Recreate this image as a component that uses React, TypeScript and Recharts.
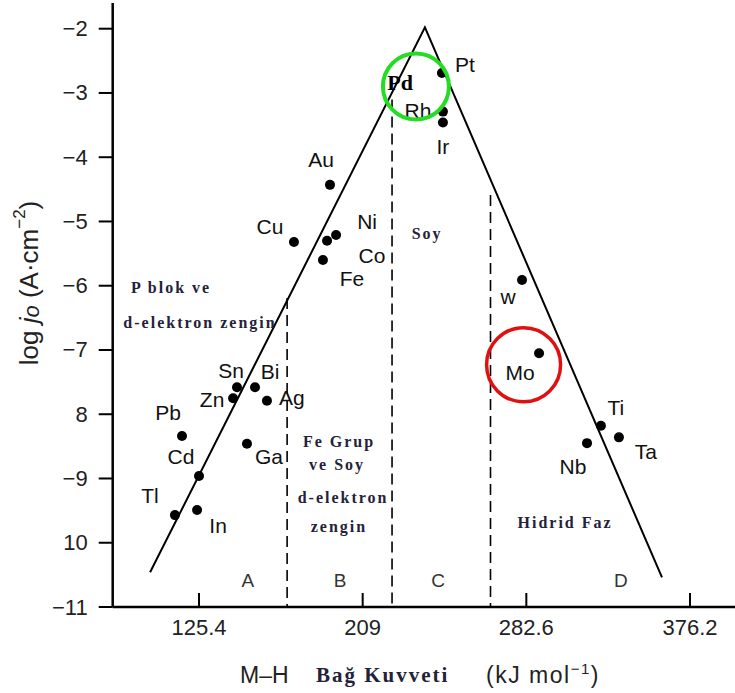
import React from "react";
import {
  ScatterChart,
  Scatter,
  XAxis,
  YAxis,
  ReferenceLine,
  ReferenceDot,
} from "recharts";

// ---------- data ----------
const xTicks = [125.4, 209, 292.6, 376.2];
const xTickLabels = ["125.4", "209", "282.6", "376.2"];
const yTicks = [-2, -3, -4, -5, -6, -7, -8, -9, -10, -11];
const yTickLabels = ["−2", "−3", "−4", "−5", "−6", "−7", "8", "−9", "10", "−11"];

const metalNames = ["Pt", "Rh", "Ir", "Au", "Cu", "Ni", "Co", "Fe", "w", "Mo", "Ti", "Ta", "Nb", "Sn", "Zn", "Bi", "Ag", "Pb", "Cd", "Ga", "Tl", "In"];
const bondStrength = [249.5, 250.0, 250.0, 192.3, 173.9, 195.4, 190.8, 188.7, 290.4, 299.1, 330.7, 339.9, 323.6, 144.8, 142.8, 154.0, 160.1, 116.7, 125.4, 149.9, 113.1, 124.4];
const logJ0 = [-2.69, -3.29, -3.46, -4.43, -5.32, -5.21, -5.3, -5.6, -5.91, -7.05, -8.18, -8.36, -8.45, -7.58, -7.75, -7.58, -7.79, -8.34, -8.96, -8.46, -9.57, -9.49];

const volcanoX = [100.4, 240.8, 361.9];
const volcanoY = [-10.46, -1.98, -10.54];

const boundaryX = [170.4, 224.0, 274.3];
const boundaryTopY = [-6.19, -3.1, -4.59];

const regionLetters = ["A", "B", "C", "D"];
const regionLetterX = [150.4, 197.4, 247.5, 340.9];
const regionLetterY = -10.58;

const noteTexts = ["P blok ve", "d-elektron zengin", "Fe Grup", "ve Soy", "d-elektron", "zengin", "Soy", "Hidrid Faz"];
const noteX = [111.1, 125.9, 196.9, 195.9, 199.0, 196.9, 241.9, 312.4];
const noteY = [-6.03, -6.58, -8.43, -8.78, -9.29, -9.74, -5.19, -9.69];

const pdLabel = { text: "Pd", x: 228.1, y: -2.83 };
const highlightGreen = { x: 236.2, y: -2.9 };
const highlightRed = { x: 291.2, y: -7.23 };

// ---------- derived tables ----------
const metals = metalNames.map((n, i) => ({ name: n, x: bondStrength[i], y: logJ0[i] }));
const volcano = volcanoX.map((x, i) => ({ x, y: volcanoY[i] }));
const notes = noteTexts.map((t, i) => ({ text: t, x: noteX[i], y: noteY[i] }));
const letters = regionLetters.map((t, i) => ({ text: t, x: regionLetterX[i], y: regionLetterY }));

// ---------- styles ----------
const SANS = "'Liberation Sans', Arial, Helvetica, sans-serif";
const SERIF = "'Liberation Serif', 'Times New Roman', serif";
const NOTE_COLOR = "#23223a";

const labelOffset: Record<string, [number, number]> = {
  Pt: [23, -9], Rh: [-25, -1], Ir: [0, 24], Au: [-9, -25], Cu: [-24, -16],
  Ni: [31, -13], Co: [45, 15], Fe: [29, 18], w: [-14, 17], Mo: [-19, 19],
  Ti: [15, -18], Ta: [27, 14], Nb: [-14, 23], Sn: [-6, -17], Zn: [-21, 1],
  Bi: [15, -16], Ag: [25, -3], Pb: [-14, -24], Cd: [-18, -19], Ga: [22, 13],
  Tl: [-25, -20], In: [21, 16],
};

const MetalShape = (props: any) => {
  const { cx, cy, payload } = props;
  const off = labelOffset[payload.name] || [0, -18];
  return (
    <g>
      <circle cx={cx} cy={cy} r={5} fill="#000" />
      <text
        x={cx + off[0]}
        y={cy + off[1]}
        textAnchor="middle"
        dominantBaseline="central"
        fontFamily={SANS}
        fontSize={21}
        fill="#111"
      >
        {payload.name}
      </text>
    </g>
  );
};

const NoteShape = (props: any) => {
  const { cx, cy, payload } = props;
  return (
    <text
      x={cx}
      y={cy}
      textAnchor="middle"
      dominantBaseline="central"
      fontFamily={SERIF}
      fontWeight="bold"
      fontSize={16}
      letterSpacing={2}
      fill={NOTE_COLOR}
    >
      {payload.text}
    </text>
  );
};

const LetterShape = (props: any) => {
  const { cx, cy, payload } = props;
  return (
    <text
      x={cx}
      y={cy}
      textAnchor="middle"
      dominantBaseline="central"
      fontFamily={SANS}
      fontSize={19}
      fill="#333"
    >
      {payload.text}
    </text>
  );
};

const PdShape = (props: any) => {
  const { cx, cy, payload } = props;
  return (
    <text
      x={cx}
      y={cy}
      textAnchor="middle"
      dominantBaseline="central"
      fontFamily={SERIF}
      fontWeight="bold"
      fontSize={22}
      fill="#000"
    >
      {payload.text}
    </text>
  );
};

const XTick = (props: any) => {
  const { x, y, payload } = props;
  const idx = xTicks.indexOf(payload.value);
  return (
    <g>
      <line x1={x} x2={x} y1={y} y2={y - 14} stroke="#000" strokeWidth={2} />
      <text x={x} y={y + 28} textAnchor="middle" fontFamily={SANS} fontSize={22} fill="#222">
        {idx >= 0 ? xTickLabels[idx] : payload.value}
      </text>
    </g>
  );
};

const YTick = (props: any) => {
  const { x, y, payload } = props;
  const idx = yTicks.indexOf(payload.value);
  return (
    <text x={x} y={y} textAnchor="end" dominantBaseline="central" fontFamily={SANS} fontSize={22} fill="#222">
      {idx >= 0 ? yTickLabels[idx] : payload.value}
    </text>
  );
};

const YLabel = () => (
  <text
    x={29}
    y={283}
    transform="rotate(-90 29 283)"
    textAnchor="middle"
    dominantBaseline="central"
    fontFamily={SANS}
    fontSize={26}
    fill="#222"
  >
    <tspan>log </tspan>
    <tspan fontStyle="italic">j</tspan>
    <tspan fontStyle="italic" fontSize={22} dy={2}>o</tspan>
    <tspan dy={-2}> (A·cm</tspan>
    <tspan fontSize={17} dy={-10}>−2</tspan>
    <tspan dy={10}>)</tspan>
  </text>
);

const XLabel = () => (
  <g>
    <text x={240} y={683} fontFamily={SANS} fontSize={23} fill="#222">M–H</text>
    <text x={316} y={682} fontFamily={SERIF} fontWeight="bold" fontSize={21} letterSpacing={2} fill={NOTE_COLOR}>
      Bağ Kuvveti
    </text>
    <text x={486} y={683} fontFamily={SANS} fontSize={23} letterSpacing={1.5} fill="#222">
      <tspan>(kJ mol</tspan>
      <tspan fontSize={15} dy={-9}>−1</tspan>
      <tspan dy={9}>)</tspan>
    </text>
  </g>
);

export default function App() {
  return (
    <div style={{ position: "absolute", left: 0, top: 0, width: 735, height: 693, background: "#fff" }}>
      <ScatterChart width={735} height={693} margin={{ top: 3, right: 0, bottom: 0, left: 0 }}>
        <XAxis
          type="number"
          dataKey="x"
          domain={[81.3, 399.2]}
          ticks={xTicks}
          allowDataOverflow
          height={86}
          tickSize={0}
          tickMargin={0}
          tickLine={false}
          tick={<XTick />}
          axisLine={{ stroke: "#000", strokeWidth: 2.5 }}
          label={{ content: () => <XLabel /> }}
        />
        <YAxis
          type="number"
          dataKey="y"
          domain={[-11, -1.6]}
          ticks={yTicks}
          allowDataOverflow
          width={112.7}
          tickSize={14}
          tickMargin={11}
          tick={<YTick />}
          tickLine={{ stroke: "#000", strokeWidth: 2 }}
          axisLine={{ stroke: "#000", strokeWidth: 2.5 }}
          label={{ content: () => <YLabel /> }}
        />
        {boundaryX.map((bx, i) => (
          <ReferenceLine
            key={"b" + i}
            segment={[
              { x: bx, y: boundaryTopY[i] },
              { x: bx, y: -11 },
            ]}
            stroke="#000"
            strokeWidth={1.6}
            strokeDasharray="11 6"
          />
        ))}
        <Scatter
          data={volcano}
          line={{ stroke: "#000", strokeWidth: 2 }}
          shape={() => null}
          isAnimationActive={false}
        />
        <Scatter data={metals} shape={<MetalShape />} isAnimationActive={false} />
        <Scatter data={notes} shape={<NoteShape />} isAnimationActive={false} />
        <Scatter data={letters} shape={<LetterShape />} isAnimationActive={false} />
        <Scatter data={[pdLabel]} shape={<PdShape />} isAnimationActive={false} />
        <ReferenceDot x={highlightGreen.x} y={highlightGreen.y} r={33} fill="none" stroke="#22dd22" strokeWidth={4} />
        <ReferenceDot x={highlightRed.x} y={highlightRed.y} r={37} fill="none" stroke="#e01010" strokeWidth={3.5} />
      </ScatterChart>
    </div>
  );
}
